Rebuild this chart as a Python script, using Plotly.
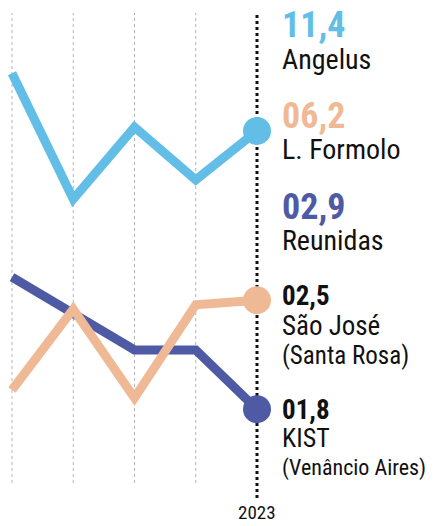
import plotly.graph_objects as go

# ---- data (index values; unlabeled scale 0-100) ----
periods = [0, 1, 2, 3, 4]
last_label = "2023"
angelus = [87.2, 60.4, 75.7, 64.5, 74.9]
sao_jose = [19.8, 37.0, 18.1, 37.9, 38.9]
kist = [43.8, 36.2, 28.3, 28.3, 15.7]

legend_values = ["11,4", "06,2", "02,9", "02,5", "01,8"]
legend_names = ["Angelus", "L. Formolo", "Reunidas", "São José", "KIST"]
legend_subs = ["", "", "", "(Santa Rosa)", "(Venâncio Aires)"]

C_LIGHT = "#62BEE6"
C_PEACH = "#F0B996"
C_DARK = "#4E5AA4"
FONT = "Roboto Condensed, Liberation Sans Narrow, Roboto, sans-serif"

W, H = 434, 526
TOP, BOT = 13, 43
PH = H - TOP - BOT


def py(p):
    """convert a pixel row to paper fraction (layout only)"""
    return (H - BOT - p) / PH


fig = go.Figure()

# gridlines
for i, x in enumerate(periods):
    last = i == len(periods) - 1
    fig.add_shape(type="line", xref="x", yref="paper", x0=x, x1=x,
                  y0=py(498) if last else 0, y1=1,
                  line=dict(color="#111111" if last else "#b5b5b5",
                            width=3 if last else 1, dash="dot"),
                  layer="below")

series = [(kist, C_DARK), (sao_jose, C_PEACH), (angelus, C_LIGHT)]
for vals, col in series:
    fig.add_trace(go.Scatter(x=periods, y=vals, mode="lines",
                             line=dict(color=col, width=9),
                             hoverinfo="skip", cliponaxis=False))
    fig.add_trace(go.Scatter(x=[periods[-1]], y=[vals[-1]], mode="markers",
                             marker=dict(color=col, size=28),
                             hoverinfo="skip", cliponaxis=False))

tx = 281 / W
anns = [
    (legend_values[0], 25, 36, C_LIGHT, True),
    (legend_names[0], 59, 28, "#111", False),
    (legend_values[1], 116, 36, C_PEACH, True),
    (legend_names[1], 149, 28, "#111", False),
    (legend_values[2], 207, 36, C_DARK, True),
    (legend_names[2], 240, 28, "#111", False),
    (legend_values[3], 296, 27, "#111", True),
    (legend_names[3], 326, 27, "#111", False),
    (legend_subs[3], 355, 25, "#111", False),
    (legend_values[4], 410, 27, "#111", True),
    (legend_names[4], 438, 26, "#111", False),
    (legend_subs[4], 468, 22, "#111", False),
]
for text, yy, size, col, bold in anns:
    fig.add_annotation(x=tx, y=py(yy), xref="paper", yref="paper",
                       text=f"<b>{text}</b>" if bold else text,
                       showarrow=False, xanchor="left", yanchor="middle",
                       borderpad=0,
                       font=dict(family=FONT, size=size, color=col))

fig.add_annotation(x=periods[-1], y=py(525), xref="x", yref="paper",
                   text=last_label, showarrow=False, xanchor="center",
                   yanchor="bottom", borderpad=0,
                   font=dict(family=FONT, size=19, color="#111"))

s = 61.25
x0 = -12 / s
fig.update_layout(
    width=W, height=H,
    margin=dict(l=0, r=0, t=TOP, b=BOT),
    paper_bgcolor="white", plot_bgcolor="white",
    showlegend=False,
    xaxis=dict(visible=False, range=[x0, x0 + W / s]),
    yaxis=dict(visible=False, range=[0, 100]),
    hovermode=False,
)
fig.write_html("out.html",
               config={"displayModeBar": False, "staticPlot": True},
               post_script="document.body.style.margin='0';"
                           "document.body.style.overflow='hidden';")
